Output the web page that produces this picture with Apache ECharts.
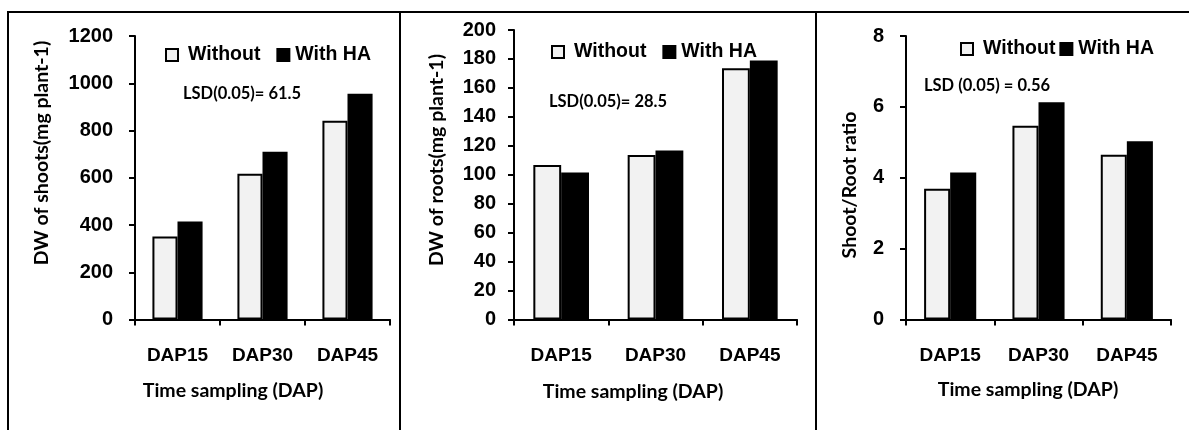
<!DOCTYPE html>
<html>
<head>
<meta charset="utf-8">
<script src="https://cdn.jsdelivr.net/npm/echarts@6/dist/echarts.min.js"></script>
<style>
html,body{margin:0;padding:0;background:#fff;}
#chart{width:1189px;height:430px;}
</style>
</head>
<body>
<div id="chart"></div>
<script>
// ---- data ----
const categories = ['DAP15', 'DAP30', 'DAP45'];
const seriesNames = ['Without', 'With HA'];
const shootsWithout = [351, 617, 841];
const shootsWithHA = [415, 710, 956];
const rootsWithout = [106.7, 113.6, 173.5];
const rootsWithHA = [101.6, 116.8, 179];
const ratioWithout = [3.69, 5.47, 4.65];
const ratioWithHA = [4.15, 6.13, 5.03];
const yTitles = ['DW of shoots(mg plant-1)', 'DW of roots(mg plant-1)', 'Shoot/Root ratio'];
const xTitle = 'Time sampling (DAP)';
const lsdLabels = ['LSD(0.05)= 61.5', 'LSD(0.05)= 28.5', 'LSD (0.05) = 0.56'];
const yMax = [1200, 200, 8];
const yStep = [200, 20, 2];

// ---- layout ----
const grids = [
  {left: 135, top: 36, width: 255, height: 283.5},
  {left: 514, top: 30, width: 283, height: 289.5},
  {left: 906, top: 36, width: 265, height: 283.5}
];
const yLabelMargin = [22, 18, 22];
const legendPos = [
  {left: 160, top: 40, itemGap: 16},
  {left: 546, top: 37, itemGap: 16},
  {left: 955, top: 34, itemGap: 4}
];
const lsdPos = [[242, 94], [608, 102], [987, 86]];
const yTitlePos = [[42, 153], [437, 160], [850, 185]];
const xTitlePos = [[233, 391], [633, 392], [1028, 390]];

const calib = 'Lato, "Open Sans", sans-serif';
const arial = '"Liberation Sans", Arial, sans-serif';
const lightFill = '#f2f2f2';

const valueSets = [[shootsWithout, shootsWithHA], [rootsWithout, rootsWithHA], [ratioWithout, ratioWithHA]];

const xAxes = [], yAxes = [], series = [], legends = [], graphics = [];
for (let i = 0; i < 3; i++) {
  xAxes.push({
    type: 'category', gridIndex: i, data: categories,
    axisLine: {lineStyle: {color: '#000', width: 2}},
    axisTick: {show: true, length: 6, lineStyle: {color: '#000', width: 2}},
    axisLabel: {color: '#000', fontFamily: arial, fontWeight: 'bold', fontSize: 19, margin: 27}
  });
  yAxes.push({
    type: 'value', gridIndex: i, min: 0, max: yMax[i], interval: yStep[i],
    splitLine: {show: false},
    axisLine: {show: true, lineStyle: {color: '#000', width: 2}},
    axisTick: {show: true, length: 6, lineStyle: {color: '#000', width: 2}},
    axisLabel: {color: '#000', fontFamily: arial, fontWeight: 'bold', fontSize: 20, margin: yLabelMargin[i],
      formatter: function (v) { return String(v); }}
  });
  series.push({
    name: seriesNames[0], type: 'bar', xAxisIndex: i, yAxisIndex: i,
    data: valueSets[i][0], barCategoryGap: '41%', barGap: '0%',
    itemStyle: {color: lightFill, borderColor: '#000', borderWidth: 2}
  });
  series.push({
    name: seriesNames[1], type: 'bar', xAxisIndex: i, yAxisIndex: i,
    data: valueSets[i][1], barCategoryGap: '41%', barGap: '0%',
    itemStyle: {color: '#000', borderColor: '#000', borderWidth: 2}
  });
  legends.push({
    left: legendPos[i].left, top: legendPos[i].top, itemGap: legendPos[i].itemGap,
    icon: 'rect', itemWidth: 12, itemHeight: 12,
    data: seriesNames.map(function (n, k) {
      return {name: n, textStyle: {padding: [0, 0, 0, k === 0 ? 5 : 1]}};
    }),
    textStyle: {color: '#000', fontFamily: arial, fontWeight: 'bold', fontSize: 19.5}
  });
  graphics.push({
    type: 'text', x: lsdPos[i][0], y: lsdPos[i][1],
    style: {text: lsdLabels[i], fill: '#000', font: 'bold 16.5px ' + calib, textAlign: 'center', textVerticalAlign: 'middle'}
  });
  graphics.push({
    type: 'text', x: yTitlePos[i][0], y: yTitlePos[i][1], rotation: Math.PI / 2,
    style: {text: yTitles[i], fill: '#000', font: 'bold 19.5px ' + calib, textAlign: 'center', textVerticalAlign: 'middle'}
  });
  graphics.push({
    type: 'text', x: xTitlePos[i][0], y: xTitlePos[i][1],
    style: {text: xTitle, fill: '#000', font: 'bold 19.5px ' + calib, textAlign: 'center', textVerticalAlign: 'middle'}
  });
}
// panel frame
const frameLines = [
  [[7, 12], [1189, 12]],
  [[8, 11], [8, 430]],
  [[400, 11], [400, 430]],
  [[816, 11], [816, 430]]
];
frameLines.forEach(function (l) {
  graphics.push({type: 'line', shape: {x1: l[0][0], y1: l[0][1], x2: l[1][0], y2: l[1][1]},
    style: {stroke: '#000', lineWidth: 2}, silent: true});
});

const chart = echarts.init(document.getElementById('chart'), null, {renderer: 'canvas'});
chart.setOption({
  animation: false,
  backgroundColor: '#fff',
  grid: grids,
  xAxis: xAxes,
  yAxis: yAxes,
  legend: legends,
  series: series,
  graphic: graphics
});
</script>
</body>
</html>
